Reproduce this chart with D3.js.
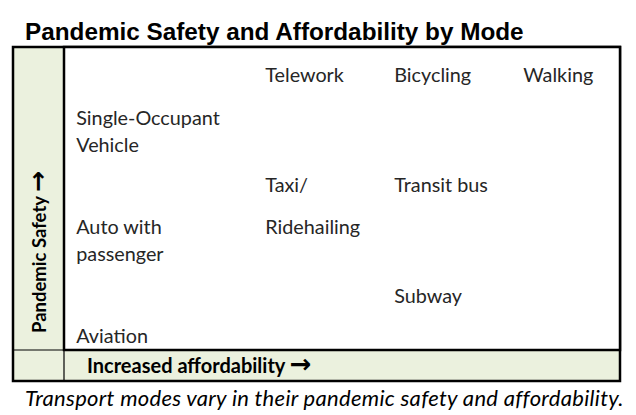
<!DOCTYPE html>
<html>
<head>
<meta charset="utf-8">
<script src="https://cdn.jsdelivr.net/npm/d3@7"></script>
<style>
  body { margin: 0; background: #fff; }
  svg { display: block; }
</style>
</head>
<body>
<div id="holder"></div>
<script>
const w = 636;
const h = 415;

// DATA - one entry per text line, affordability / safety on 0-100
const labels = ["Telework", "Bicycling", "Walking", "Single-Occupant", "Vehicle", "Taxi/", "Transit bus",
  "Ridehailing", "Auto with", "passenger", "Subway", "Aviation"];
const affordability = [36.2, 59.4, 82.6, 2.2, 2.2, 36.2, 59.4, 36.2, 2.2, 2.2, 59.4, 2.2];
const safety = [90.7, 90.7, 90.7, 76.5, 67.5, 54.3, 54.3, 40.7, 40.7, 31.8, 17.9, 4.6];

const title = "Pandemic Safety and Affordability by Mode";
const yLabel = "Pandemic Safety";
const xLabel = "Increased affordability";
const arrow = "\u2192";
const caption = "Transport modes vary in their pandemic safety and affordability.";

// LAYOUT
const box = { left: 13, right: 620, top: 47, bottom: 381 };
const plot = { left: 64, bottom: 350 };
const green = "#EBF1DE";

const svg = d3.select("#holder")
  .append("svg")
  .attr("width", w)
  .attr("height", h);

const xScale = d3.scaleLinear().domain([0, 100]).range([plot.left, box.right]);
const yScale = d3.scaleLinear().domain([0, 100]).range([plot.bottom, box.top]);

// TITLE
svg.append("text")
  .attr("x", 25)
  .attr("y", 40)
  .attr("font-family", "Liberation Sans, Arial, sans-serif")
  .attr("font-weight", "bold")
  .attr("font-size", 24.3)
  .attr("fill", "#000")
  .text(title);

// BACKGROUND BOX
svg.append("rect")
  .attr("x", box.left)
  .attr("y", box.top)
  .attr("width", box.right - box.left)
  .attr("height", box.bottom - box.top)
  .attr("fill", green)
  .attr("stroke", "#000")
  .attr("stroke-width", 2.5);

// small grid lines in the corner cell
svg.append("line")
  .attr("x1", box.left).attr("x2", plot.left)
  .attr("y1", plot.bottom).attr("y2", plot.bottom)
  .attr("stroke", "#000").attr("stroke-width", 1.2);
svg.append("line")
  .attr("x1", plot.left).attr("x2", plot.left)
  .attr("y1", plot.bottom).attr("y2", box.bottom)
  .attr("stroke", "#000").attr("stroke-width", 1.2);

// PLOT AREA
svg.append("rect")
  .attr("x", plot.left)
  .attr("y", box.top)
  .attr("width", box.right - plot.left)
  .attr("height", plot.bottom - box.top)
  .attr("fill", "#fff")
  .attr("stroke", "#000")
  .attr("stroke-width", 2.5);

// MODE LABELS
svg.selectAll("text.mode")
  .data(labels)
  .enter()
  .append("text")
  .attr("class", "mode")
  .attr("x", (d, i) => xScale(affordability[i]))
  .attr("y", (d, i) => yScale(safety[i]))
  .attr("dy", "0.35em")
  .attr("font-family", "Lato, sans-serif")
  .attr("font-size", 19.8)
  .attr("fill", "#262626")
  .text(d => d);

// AXIS LABELS
const yl = svg.append("text")
  .attr("transform", "translate(" + ((box.left + plot.left) / 2 + 1) + "," + 333 + ") rotate(-90)")
  .attr("dy", "0.35em")
  .attr("font-family", "Lato, sans-serif")
  .attr("font-weight", "bold")
  .attr("font-size", 18.5)
  .attr("fill", "#000");
yl.append("tspan").text(yLabel + " ");
yl.append("tspan")
  .attr("font-family", "DejaVu Sans, sans-serif")
  .attr("font-size", 25)
  .text(arrow);

const xl = svg.append("text")
  .attr("x", 87)
  .attr("y", (plot.bottom + box.bottom) / 2)
  .attr("dy", "0.35em")
  .attr("font-family", "Lato, sans-serif")
  .attr("font-weight", "bold")
  .attr("font-size", 20)
  .attr("fill", "#000");
xl.append("tspan").text(xLabel + " ");
xl.append("tspan")
  .attr("font-family", "DejaVu Sans, sans-serif")
  .attr("font-size", 26)
  .text(arrow);

// CAPTION
svg.append("text")
  .attr("x", 25)
  .attr("y", 398)
  .attr("dy", "0.35em")
  .attr("font-family", "Lato, sans-serif")
  .attr("font-style", "italic")
  .attr("font-size", 22)
  .attr("letter-spacing", 0.3)
  .attr("fill", "#000")
  .text(caption);
</script>
</body>
</html>
